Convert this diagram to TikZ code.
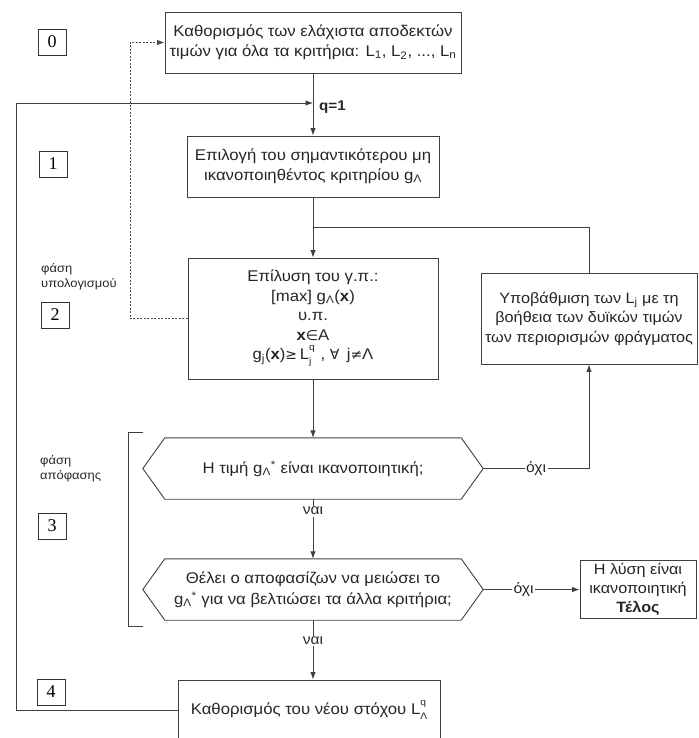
\documentclass[tikz,border=0pt]{standalone}
\usepackage{fontspec}
\setmainfont{Liberation Sans}[FakeStretch=1.08]
\newfontfamily\symfont{DejaVu Sans}
\newfontfamily\numfont{Liberation Serif}
\usetikzlibrary{arrows.meta}

% subscript and superscript stacked on one letter
\newcommand\subsup[3]{#1\rlap{\raisebox{0.62em}{\fontsize{9.5}{9.5}\selectfont #3}}%
  \raisebox{-0.32em}{\fontsize{9.5}{9.5}\selectfont #2}}
\newcommand\sym[1]{{\symfont\fontsize{14}{14}\selectfont #1}}

\begin{document}
\begin{tikzpicture}[x=1pt,y=-1pt,
  line/.style={draw=black!75, line width=0.9pt},
  arr/.style={line, -{Latex[length=7.5pt,width=5.5pt]}},
  dotarr/.style={draw=black!70, line width=0.8pt, dash pattern=on 2pt off 1.5pt, -{Latex[length=7.5pt,width=5.5pt]}},
  box/.style={draw=black!75, line width=0.9pt, fill=white, align=center, inner sep=0pt,
    text=black!85, font=\fontsize{15.5}{19.5}\selectfont},
  hexbox/.style={draw=none, align=center, inner sep=0pt, minimum width=296pt, minimum height=61pt,
    text=black!85, font=\fontsize{15.5}{21}\selectfont},
  hexline/.style={draw=black!75, line width=0.9pt},
  numbox/.style={draw=black!80, line width=0.8pt, minimum width=28pt, minimum height=26pt, inner sep=0pt,
    font=\numfont\fontsize{18}{18}\selectfont},
  phase/.style={anchor=north west, align=left, inner sep=0pt, text=black!85,
    font=\fontsize{12}{15}\selectfont},
  lbl/.style={fill=white, inner sep=1.5pt, text=black!85, font=\fontsize{14.5}{14.5}\selectfont},
]
\useasboundingbox (0,0) rectangle (698,738);

% --- main boxes
\node[box, minimum width=296pt, minimum height=61pt] (b0) at (313,42.5)
  {Καθορισμός των ελάχιστα αποδεκτών\\τιμών για όλα τα κριτήρια: L\textsubscript{1}, L\textsubscript{2}, ..., L\textsubscript{n}};
\node[box, minimum width=252pt, minimum height=61pt] (b1) at (313,166.5)
  {Επιλογή του σημαντικότερου μη\\ικανοποιηθέντος κριτηρίου g\textsubscript{Λ}};
\node[box, minimum width=250pt, minimum height=121pt] (b2) at (313,318.5)
  {Επίλυση του γ.π.:\\{[max]} g\textsubscript{Λ}(\textbf{x})\\υ.π.\\\textbf{x}\sym{∈}A\\
   g\textsubscript{j}(\textbf{x})\sym{≥}\,\subsup{L}{j}{q}\ \ , \sym{∀}\, j\sym{≠}Λ};
\node[box, minimum width=216pt, minimum height=91pt, font=\fontsize{15}{19.5}\selectfont] (bu) at (589,318.5)
  {Υποβάθμιση των L\textsubscript{j} με τη\\βοήθεια των δυϊκών τιμών\\των περιορισμών φράγματος};
\node[hexbox] (d1) at (313,468.5) {Η τιμή g\textsubscript{Λ}\textsuperscript{*} είναι ικανοποιητική;};
\node[hexbox] (d2) at (313,589.5)
  {Θέλει ο αποφασίζων να μειώσει το\\g\textsubscript{Λ}\textsuperscript{*} για να βελτιώσει τα άλλα κριτήρια;};
\node[box, minimum width=116pt, minimum height=58pt, font=\fontsize{15}{19}\selectfont] (be) at (638,589.5)
  {Η λύση είναι\\ικανοποιητική\\\textbf{Τέλος}};
\node[box, minimum width=262pt, minimum height=60pt] (b4) at (309,710)
  {Καθορισμός του νέου στόχου \subsup{L}{Λ}{q}};

% --- hexagonal decision outlines
\coordinate (d1l) at ([xshift=-22pt]d1.west);
\coordinate (d1r) at ([xshift=22pt]d1.east);
\coordinate (d2l) at ([xshift=-22pt]d2.west);
\coordinate (d2r) at ([xshift=22pt]d2.east);
\draw[hexline] (d1.north west) -- (d1.north east) -- (d1r) -- (d1.south east)
  -- (d1.south west) -- (d1l) -- cycle;
\draw[hexline] (d2.north west) -- (d2.north east) -- (d2r) -- (d2.south east)
  -- (d2.south west) -- (d2l) -- cycle;

% --- step numbers and phase labels
\node[numbox] (n0) at (52,42) {0};
\node[numbox] (n1) at (53,164) {1};
\node[numbox] (n2) at (55,315) {2};
\node[numbox] (n3) at (52,526) {3};
\node[numbox] (n4) at (51,692) {4};
\node[phase] (p2) at (41,263) {φάση\\υπολογισμού};
\node[phase] (p3) at (40,455) {φάση\\απόφασης};

% --- bracket of the decision phase
\draw[line] (143,432) -- (128,432) -- (128,626) -- (143,626);

% --- connectors
\coordinate (merge) at (313,103);
\coordinate (ltop) at (16,103);
\coordinate (lbot) at (16,710);
\coordinate (join) at (313,227);
\coordinate (dl) at (130,318.5);
\coordinate (dt) at (130,42.5);

\draw[arr] (b0) -- (b1);
\node[anchor=west, inner sep=0pt, text=black!85, font=\bfseries\fontsize{14}{14}\selectfont] (q1) at (319,107) {q=1};
\draw[line] (b4.west) -- (lbot) -- (ltop);
\draw[arr] (ltop) -- (merge);
\draw[arr] (b1) -- (b2);
\draw[line] (bu.north) |- (join);
\draw[dotarr] (b2.west) -- (dl) -- (dt) -- (b0.west);
\draw[arr] (b2) -- (d1.north);
\draw[arr] (d1r) -| node[lbl, pos=0.25] {όχι} (bu.south);
\draw[arr] (d1.south) -- node[lbl, pos=0.2] {ναι} (d2.north);
\draw[arr] (d2r) -- node[lbl, pos=0.42] {όχι} (be.west);
\draw[arr] (d2.south) -- node[lbl, pos=0.35] {ναι} (d2.south |- b4.north);
\end{tikzpicture}
\end{document}
